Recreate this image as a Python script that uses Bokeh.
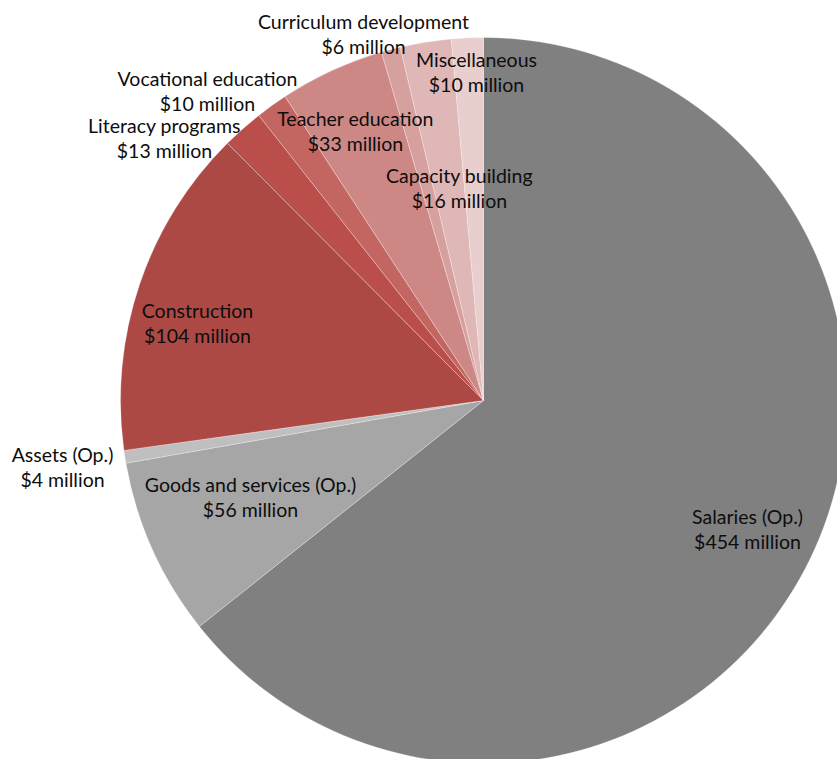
import numpy as np
from bokeh.plotting import figure
from bokeh.models import ColumnDataSource
from bokeh.core.properties import value
from bokeh.embed import file_html
from bokeh.resources import INLINE

# ---- data ----
categories = ["Salaries (Op.)", "Goods and services (Op.)", "Assets (Op.)", "Construction",
              "Literacy programs", "Vocational education", "Teacher education",
              "Curriculum development", "Capacity building", "Miscellaneous"]
amounts = [454, 56, 4, 104, 13, 10, 33, 6, 16, 10]

# ---- style / layout ----
colors = ["#808080", "#a6a6a6", "#bfbfbf", "#ad4945", "#b94e4a", "#c36561",
          "#cd8886", "#d6a09f", "#dfb7b6", "#e8cecd"]
# label centre offsets from pie centre (px, y up)
label_dx = [264, -233, -421, -286, -319, -276, -128, -120, -24, -7]
label_dy = [-128, -96, -66, 78, 263, 310, 270, 367, 213, 329]

W, H = 837, 759
cx, cy, R = 483, 359, 363

vals = np.array(amounts, dtype=float)
frac = vals / vals.sum()
ang = 2 * np.pi * frac
start = np.pi / 2 - np.concatenate([[0], np.cumsum(ang)[:-1]])
end = start - ang

src = ColumnDataSource(dict(cat=categories, val=amounts, color=colors,
                            start=start, end=end,
                            x=[cx] * len(amounts), y=[cy] * len(amounts)))

p = figure(width=W, height=H, x_range=(0, W), y_range=(0, H),
           output_backend="svg", toolbar_location=None, min_border=0,
           outline_line_color=None, match_aspect=False)
p.axis.visible = False
p.grid.visible = False
p.background_fill_color = "white"
p.border_fill_color = "white"

p.wedge(x="x", y="y", radius=R, start_angle="end", end_angle="start",
        fill_color="color", line_color="white", line_width=0.7, line_alpha=0.4,
        source=src)

lx = [cx + d for d in label_dx]
ly = [cy + d for d in label_dy]
line1 = categories
line2 = ["$%d million" % v for v in amounts]
lsrc = ColumnDataSource(dict(x=lx, y1=[y + 12.5 for y in ly], y2=[y - 12.5 for y in ly],
                             t1=line1, t2=line2))
for yk, tk in (("y1", "t1"), ("y2", "t2")):
    p.text(x="x", y=yk, text=tk, source=lsrc, text_align="center",
           text_baseline="middle", text_font=value("Lato"),
           text_font_size="19.5px", text_color="#0d0d0d")

open("out.html", "w").write(file_html(p, INLINE))
